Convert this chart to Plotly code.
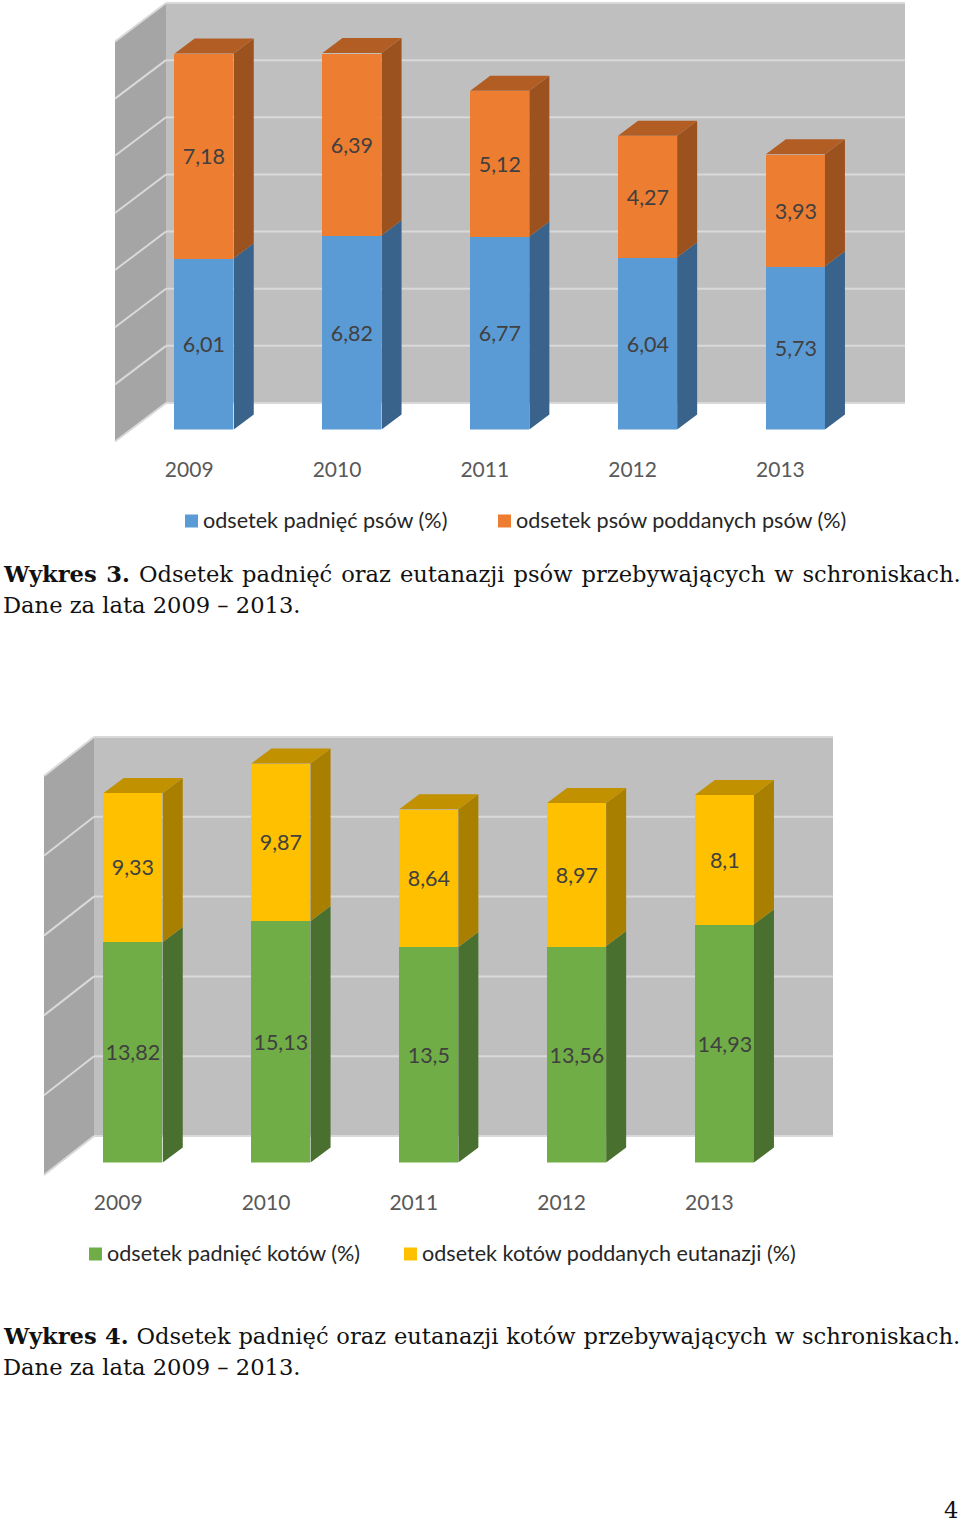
import plotly.graph_objects as go

W, H = 960, 1523
years = ["2009", "2010", "2011", "2012", "2013"]
dogs_dead = [6.01, 6.82, 6.77, 6.04, 5.73]
dogs_euth = [7.18, 6.39, 5.12, 4.27, 3.93]
cats_dead = [13.82, 15.13, 13.5, 13.56, 14.93]
cats_euth = [9.33, 9.87, 8.64, 8.97, 8.1]

LABEL = "Lato"
SERIF = "DejaVu Serif"

def px(x): return x / W
def py(y): return 1 - y / H

fig = go.Figure()
shapes, annos = [], []

def poly(pts, color):
    d = "M" + " L".join(f"{px(x):.5f},{py(y):.5f}" for x, y in pts) + " Z"
    shapes.append(dict(type="path", path=d, xref="paper", yref="paper", fillcolor=color,
                       line=dict(width=0), layer="below"))

def line(x0, y0, x1, y1):
    shapes.append(dict(type="line", x0=px(x0), x1=px(x1), y0=py(y0), y1=py(y1), xref="paper", yref="paper",
                       line=dict(color="#d9d9d9", width=2), layer="below"))

def chart(n, a, b, colors, sides, topc, wall, base, unit, ymax, names, legend_x, legend_y):
    xa, ya = f"x{n}", f"y{n}"
    wx0, wx1, wy0, wy1, skew_x, skew_y, gridstep, gridmax = wall
    poly([(wx0, wy0), (wx1, wy0), (wx1, wy1), (wx0, wy1)], "#bfbfbf")
    poly([(wx0 - skew_x, wy0 + skew_y), (wx0, wy0), (wx0, wy1), (wx0 - skew_x, wy1 + skew_y)], "#a5a5a5")
    v = 0
    while v <= gridmax:
        y = wy1 - (wy1 - wy0) * v / gridmax
        line(wx0, y, wx1, y)
        line(wx0 - skew_x, y + skew_y, wx0, y)
        v += gridstep
    idx = list(range(len(years)))
    front0 = wx0 - skew_x + 15.3
    cat = (wx1 - wx0) / 5
    bw = 0.4
    dx, dy = 20 / cat, 15 / unit
    for series, col, nm in ((a, colors[0], names[0]), (b, colors[1], names[1])):
        fig.add_trace(go.Bar(x=idx, y=series, width=bw, marker=dict(color=col, line=dict(width=0)), name=nm,
                             text=[str(v).replace(".", ",") for v in series], textposition="inside",
                             insidetextanchor="middle", textangle=0, constraintext="none",
                             textfont=dict(family=LABEL, size=21.5, color="#404040"),
                             hoverinfo="skip", showlegend=False, xaxis=xa, yaxis=ya))
    bottoms = [[0] * 5, a]
    for series, bot, col in ((a, bottoms[0], sides[0]), (b, bottoms[1], sides[1])):
        xs, ys = [], []
        for i, (v, b0) in enumerate(zip(series, bot)):
            r = i + bw / 2
            xs += [r, r + dx, r + dx, r, r, None]
            ys += [b0, b0 + dy, b0 + v + dy, b0 + v, b0, None]
        fig.add_trace(go.Scatter(x=xs, y=ys, mode="lines", fill="toself", fillcolor=col, line=dict(width=0),
                                 hoverinfo="skip", showlegend=False, xaxis=xa, yaxis=ya))
    xs, ys = [], []
    for i, (p, q) in enumerate(zip(a, b)):
        l, r, t = i - bw / 2, i + bw / 2, p + q
        xs += [l, l + dx, r + dx, r, l, None]
        ys += [t, t + dy, t + dy, t, t, None]
    fig.add_trace(go.Scatter(x=xs, y=ys, mode="lines", fill="toself", fillcolor=topc, line=dict(width=0),
                             hoverinfo="skip", showlegend=False, xaxis=xa, yaxis=ya))
    key = "" if n == 1 else str(n)
    fig.update_layout({
        f"xaxis{key}": dict(domain=[px(front0), px(front0 + 5 * cat)], range=[-0.5, 4.5], anchor=ya,
                            tickvals=idx, ticktext=years, showgrid=False, zeroline=False, showline=False,
                            ticks="", ticklabelshift=-15, ticklabelstandoff=25,
                            tickfont=dict(family=LABEL, size=21, color="#595959")),
        f"yaxis{key}": dict(domain=[py(base), py(base - ymax * unit)], range=[0, ymax], anchor=xa,
                            showgrid=False, zeroline=False, showline=False, showticklabels=False),
    })
    for i, (lx, nm) in enumerate(zip(legend_x, names)):
        shapes.append(dict(type="rect", xref="paper", yref="paper", x0=px(lx), x1=px(lx + 13),
                           y0=py(legend_y + 6.5), y1=py(legend_y - 6.5), fillcolor=colors[i], line=dict(width=0)))
        annos.append(dict(text=nm, xref="paper", yref="paper", x=px(lx + 16), y=py(legend_y - 1), xanchor="left",
                          yanchor="middle", showarrow=False, font=dict(family=LABEL, size=21.6, color="#262626")))

chart(1, dogs_dead, dogs_euth, ("#5b9bd5", "#ed7d31"), ("#39638a", "#9c521e"), "#b25d24",
      (166, 905, 3, 403, 51, 38.5, 2, 14), 429.5, 28.5, 14,
      ("odsetek padnięć psów (%)", "odsetek psów poddanych psów (%)"), (185, 498), 521)
chart(2, cats_dead, cats_euth, ("#70ad47", "#ffc000"), ("#4a7030", "#a97f00"), "#c19100",
      (94, 833, 737, 1136, 50, 39, 5, 25), 1162.5, 15.96, 27,
      ("odsetek padnięć kotów (%)", "odsetek kotów poddanych eutanazji (%)"), (89, 404), 1254)

captions = [
    (574, '<span style="word-spacing:1.8px"><b>Wykres 3.</b> Odsetek padnięć oraz eutanazji psów przebywających w schroniskach.</span>'),
    (605, "Dane za lata 2009 – 2013."),
    (1336, '<span style="word-spacing:0.6px"><b>Wykres 4.</b> Odsetek padnięć oraz eutanazji kotów przebywających w schroniskach.</span>'),
    (1367, "Dane za lata 2009 – 2013."),
]
for y, t in captions:
    annos.append(dict(text=t, xref="paper", yref="paper", x=px(1), y=py(y), xanchor="left", yanchor="middle",
                      showarrow=False, font=dict(family=SERIF, size=22.6, color="#111111")))
annos.append(dict(text="4", xref="paper", yref="paper", x=px(960), y=py(1510), xanchor="right", yanchor="middle",
                  showarrow=False, font=dict(family=SERIF, size=22.6, color="#111111")))

fig.update_layout(width=W, height=H, margin=dict(l=0, r=0, t=0, b=0), barmode="stack", bargap=0,
                  paper_bgcolor="white", plot_bgcolor="rgba(0,0,0,0)", showlegend=False,
                  shapes=shapes, annotations=annos)
fig.write_html("out.html", config=dict(displayModeBar=False),
               post_script="document.body.style.margin='0';document.body.style.overflow='hidden';")
